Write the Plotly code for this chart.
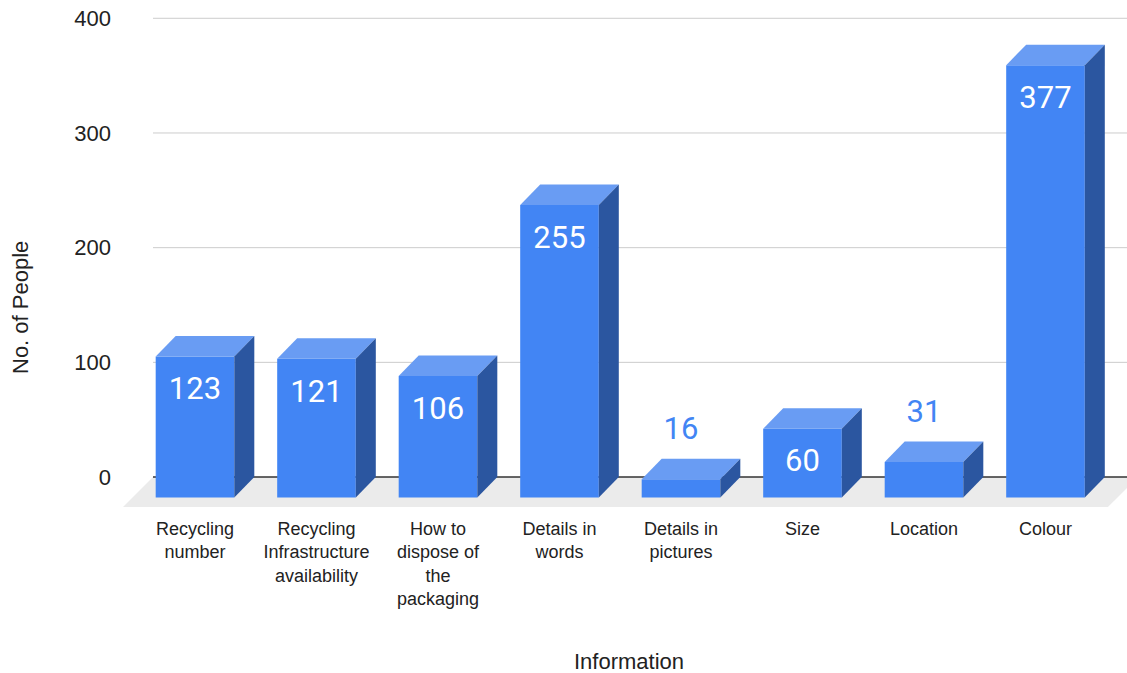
import plotly.graph_objects as go

# ---- data ----
categories = [
    "Recycling<br>number",
    "Recycling<br>Infrastructure<br>availability",
    "How to<br>dispose of<br>the<br>packaging",
    "Details in<br>words",
    "Details in<br>pictures",
    "Size",
    "Location",
    "Colour",
]
values = [123, 121, 106, 255, 16, 60, 31, 377]
y_ticks = [0, 100, 200, 300, 400]

# ---- style / geometry ----
FRONT = "#4285f4"
TOP = "#699cf3"
SIDE = "#2b56a0"
FLOOR = "#ebebeb"
GRID = "#cccccc"
TEXT = "#222222"

PX_X = 121.5          # pixels per category
PX_Y = 1.1469         # pixels per value unit
DX = 20 / PX_X        # depth offset (x, data units)
DY = 20.5 / PX_Y      # depth offset (y, data units)
HALF = 0.3235         # half width of bar front face
FLOOR_DX = 30 / PX_X
FLOOR_DY = 30 / PX_Y
X_RANGE = [-0.6008, 7.6708]
Y_RANGE = [-27, 402]
FLOOR_BACK = [-0.3457, 7.761]
LABEL_MIN = 45        # bars shorter than this get the label above

fig = go.Figure()

def poly(xs, ys, color):
    fig.add_trace(go.Scatter(
        x=xs + [xs[0]], y=ys + [ys[0]], mode="lines", fill="toself",
        fillcolor=color, line=dict(width=0, color=color),
        hoverinfo="skip", showlegend=False))

# gridlines
for t in y_ticks[1:]:
    fig.add_trace(go.Scatter(x=[FLOOR_BACK[0], X_RANGE[1]], y=[t, t], mode="lines",
                             line=dict(color=GRID, width=1), hoverinfo="skip",
                             showlegend=False))

# floor
poly([FLOOR_BACK[0], FLOOR_BACK[1], FLOOR_BACK[1] - FLOOR_DX, FLOOR_BACK[0] - FLOOR_DX],
     [0, 0, -FLOOR_DY, -FLOOR_DY], FLOOR)

# zero line
fig.add_trace(go.Scatter(x=[FLOOR_BACK[0], X_RANGE[1]], y=[0, 0], mode="lines",
                         line=dict(color="#333333", width=1.6), hoverinfo="skip",
                         showlegend=False))

# 3D bars
for i, v in enumerate(values):
    c = i
    l, r = c - HALF, c + HALF
    b, t = -DY, v - DY
    poly([l, r, r, l], [b, b, t, t], FRONT)
    poly([l, r, r + DX, l + DX], [t, t, v, v], TOP)
    poly([r, r + DX, r + DX, r], [b, 0, v, t], SIDE)

# value labels
in_x, in_y, in_t, out_x, out_y, out_t = [], [], [], [], [], []
for i, v in enumerate(values):
    if v >= LABEL_MIN:
        in_x.append(i); in_y.append(v - DY - 35 / PX_Y); in_t.append(str(v))
    else:
        out_x.append(i); out_y.append(v + 27 / PX_Y); out_t.append(str(v))
fig.add_trace(go.Scatter(x=in_x, y=in_y, text=in_t, mode="text",
                         textfont=dict(family="Roboto", size=31, color="white"),
                         hoverinfo="skip", showlegend=False))
fig.add_trace(go.Scatter(x=out_x, y=out_y, text=out_t, mode="text",
                         textfont=dict(family="Roboto", size=31, color=FRONT),
                         hoverinfo="skip", showlegend=False))

fig.update_layout(
    width=1127, height=673,
    margin=dict(l=122, r=0, t=16, b=165),
    paper_bgcolor="white", plot_bgcolor="white",
    font=dict(family="Liberation Sans, Arial, sans-serif", color=TEXT),
    xaxis=dict(range=X_RANGE, showgrid=False, zeroline=False, showline=False,
               tickvals=list(range(len(categories))), ticktext=categories,
               tickfont=dict(size=18, color=TEXT), ticks="", ticklabelstandoff=8),
    yaxis=dict(range=Y_RANGE, showgrid=False, zeroline=False, showline=False,
               tickvals=y_ticks, ticktext=[str(t) for t in y_ticks],
               tickfont=dict(size=22, color=TEXT), ticks="", ticklabelstandoff=10),
    annotations=[
        dict(text="Information", xref="paper", yref="paper", x=(629 - 122) / 1005,
             y=(508 - 661) / 492, showarrow=False, font=dict(size=22, color=TEXT),
             xanchor="center", yanchor="middle"),
        dict(text="No. of People", xref="paper", yref="paper", x=(20 - 122) / 1005,
             y=(508 - 308) / 492, showarrow=False, textangle=-90,
             font=dict(size=22, color=TEXT), xanchor="center", yanchor="middle"),
    ],
)

fig.write_html("out.html")
